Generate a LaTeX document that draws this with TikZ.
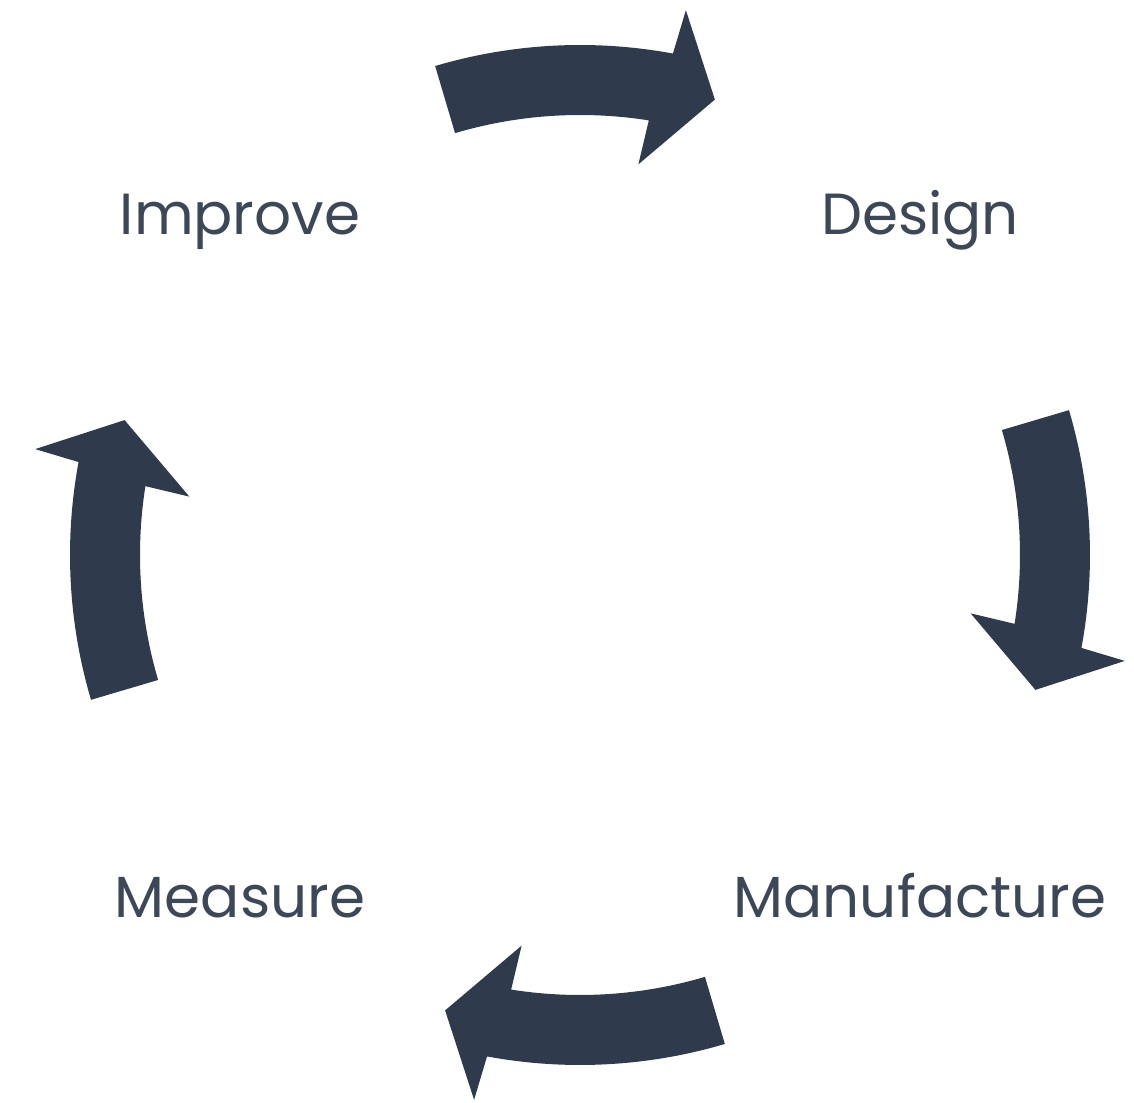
\documentclass[tikz,border=0pt]{standalone}
\usepackage{fontspec}
\setmainfont{Poppins}
\definecolor{slate}{HTML}{2F3B4C}
\definecolor{labelgray}{HTML}{3C4758}
\tikzset{
    steplabel/.style={text=labelgray, anchor=base, font=\fontsize{33}{40}\selectfont},
    cyclearrow/.style={fill=slate}
}
\begin{document}
\begin{tikzpicture}
                \useasboundingbox (-11.6,-10.96) rectangle (11.08,11.1);

                % the four curved arrows, clockwise
                \foreach \a in {90,0,-90,180} {
                    \fill[cyclearrow] ({\a+16.5}:10.2)
                        arc[start angle=\a+16.5, end angle=\a-10.5, radius=10.2]
                        -- ({\a-11}:11.1) -- ({\a-16.5}:9.5) -- ({\a-8.5}:7.9)
                        -- ({\a-9}:8.8)
                        arc[start angle=\a-9, end angle=\a+16.5, radius=8.8]
                        -- cycle;
                }

                \node[steplabel, name=improve] at (-6.8,6.4) {Improve};
                \node[steplabel, name=design] at (6.8,6.4) {Design};
                \node[steplabel, name=manufacture] at (6.8,-7.26) {Manufacture};
                \node[steplabel, name=measure] at (-6.8,-7.26) {Measure};
            \end{tikzpicture}
\end{document}
